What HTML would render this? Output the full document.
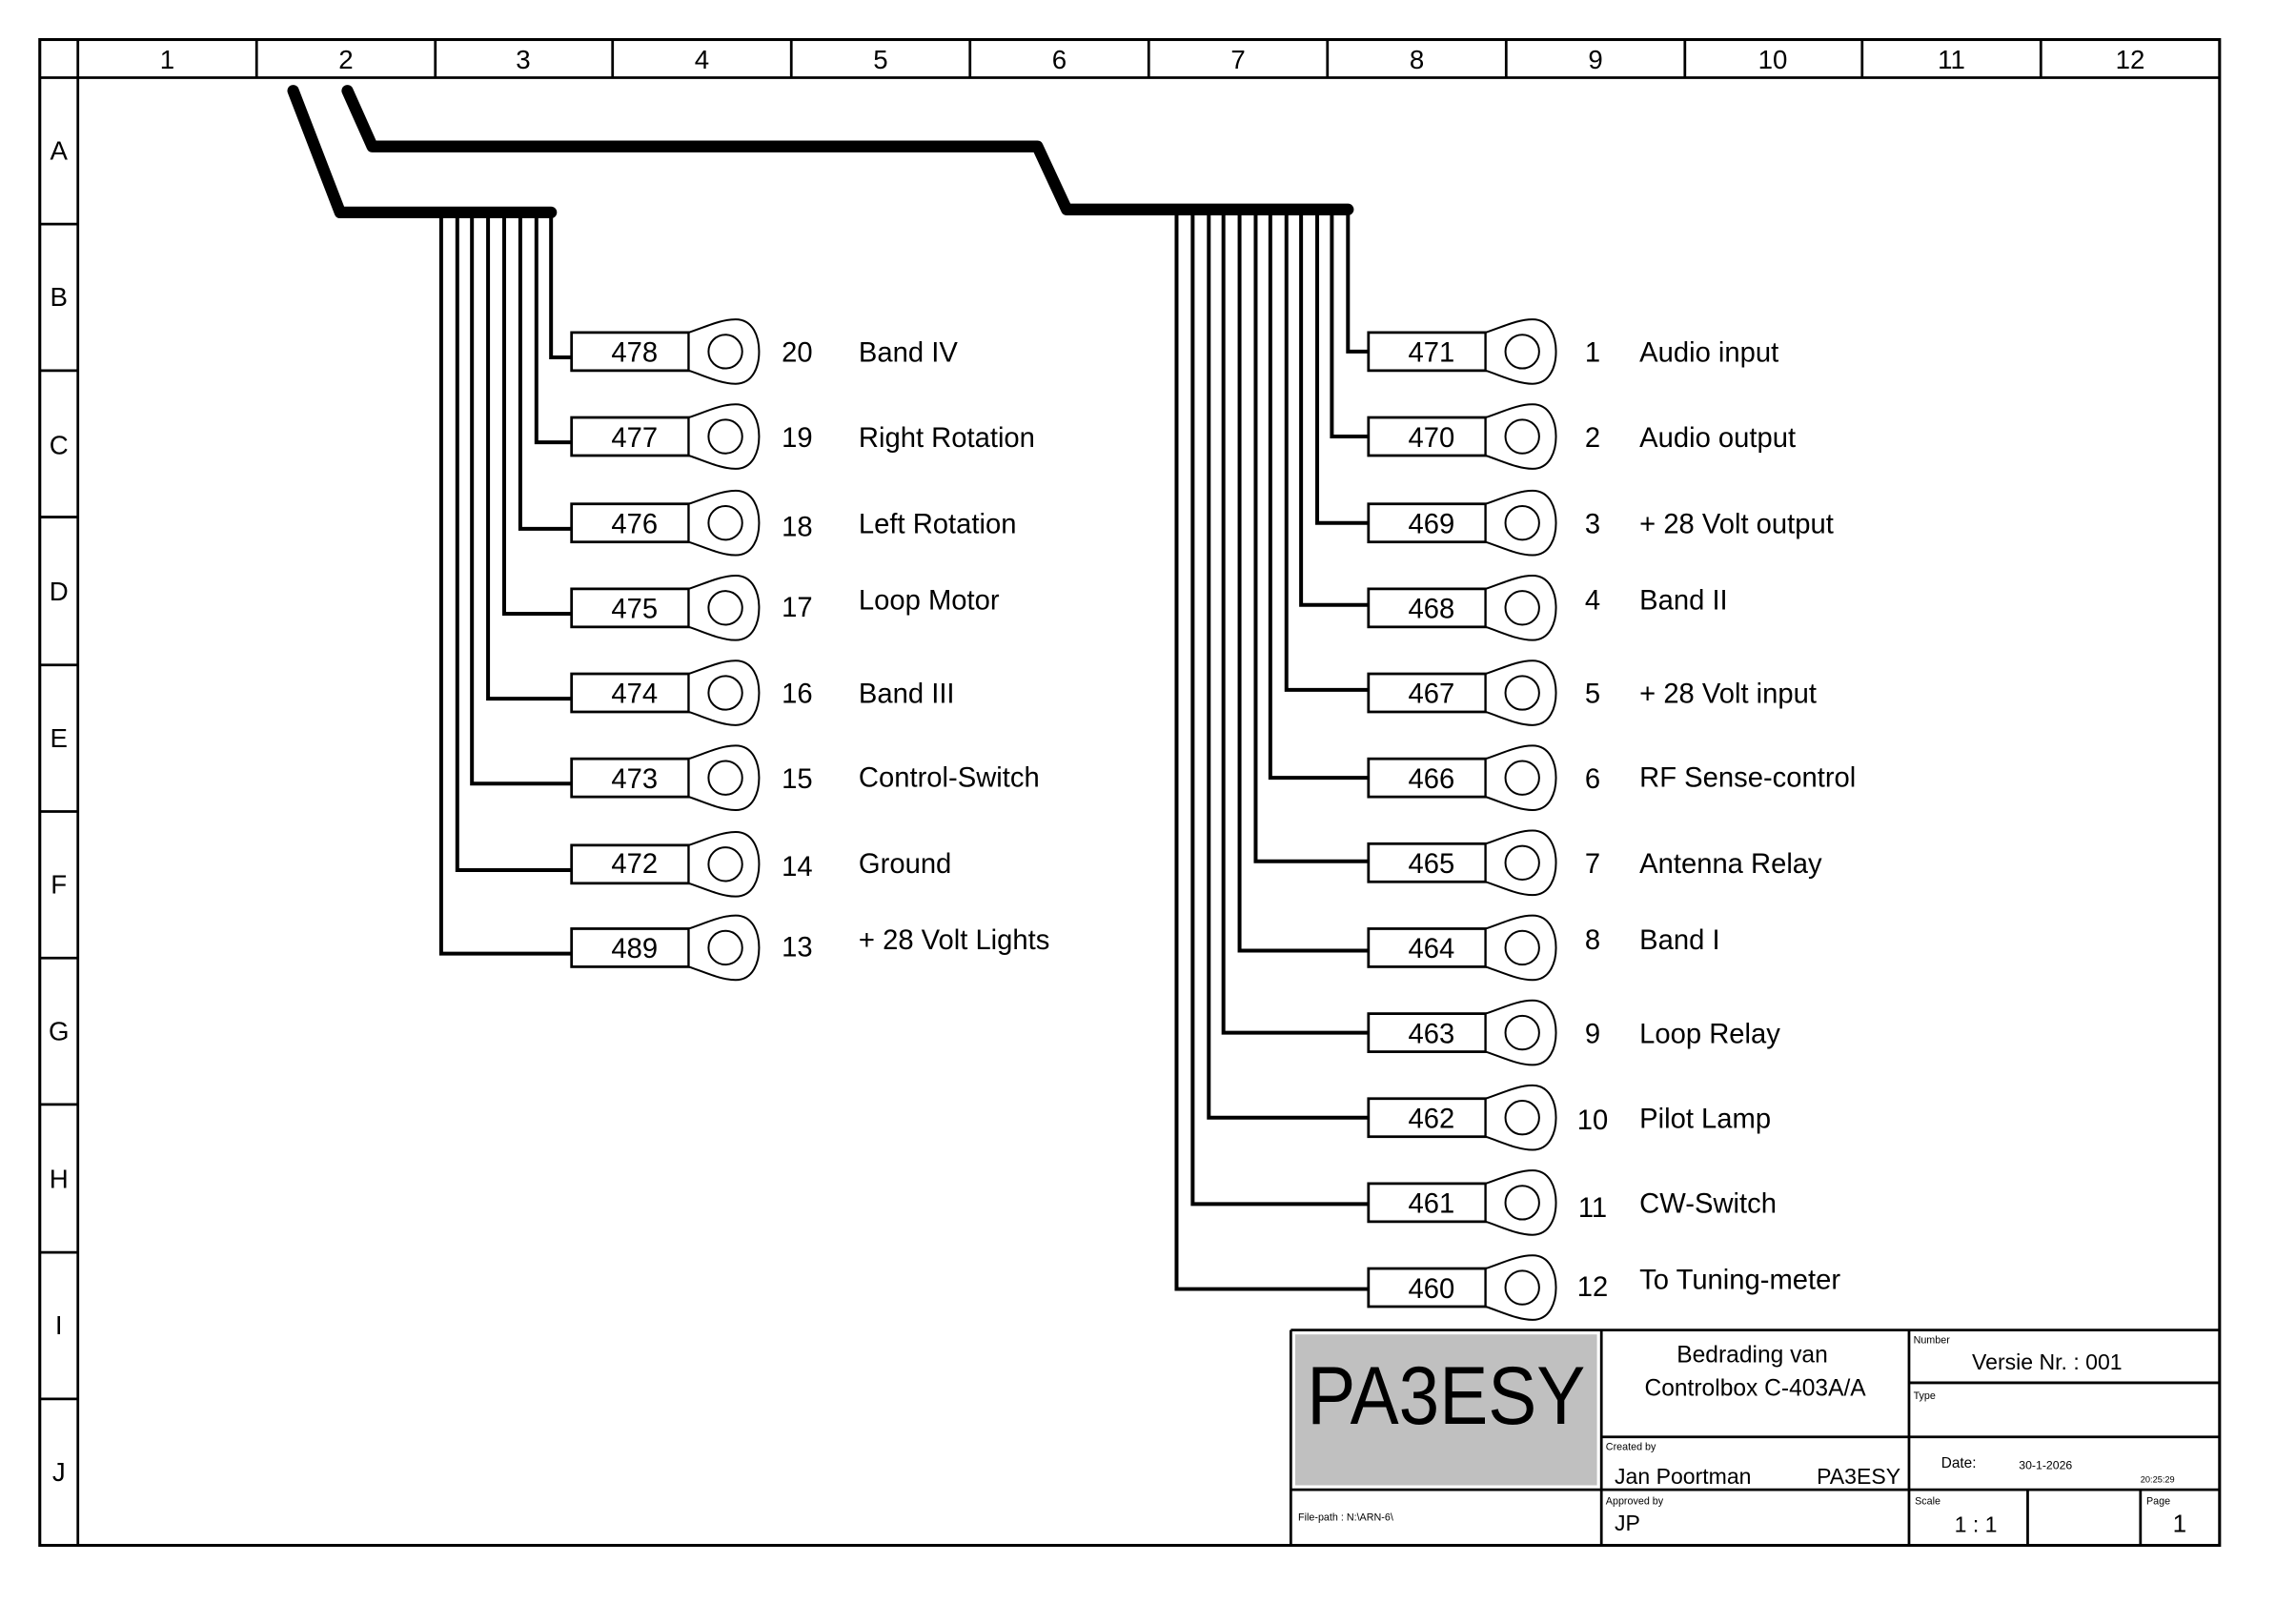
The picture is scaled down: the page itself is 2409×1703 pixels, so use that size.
<!DOCTYPE html>
<html><head><meta charset="utf-8"><style>
html,body{margin:0;padding:0;background:#fff}
svg{display:block}
text{font-family:"Liberation Sans",sans-serif;fill:#000}
.h{font-size:18px;text-anchor:middle}
.t{font-size:19px}
.n{font-size:19px;text-anchor:middle}
.w{stroke:#000;stroke-width:2.6;fill:none}
.b{fill:#fff;stroke:#000;stroke-width:1.8}
.l{fill:#fff;stroke:#000;stroke-width:1.3}
.f{stroke:#000;stroke-width:1.8;fill:none}
.s{font-size:7px}
</style></head><body>
<svg width="2409" height="1703" viewBox="0 0 1567 1108" xmlns="http://www.w3.org/2000/svg">
<defs>
<g id="lug">
<rect class="b" x="0" y="-13" width="80" height="26"/>
<path class="l" d="M80,-13 C92,-17 102,-22 112,-22 C124,-22 128,-10 128,0 C128,10 124,22 112,22 C102,22 92,17 80,13 Z"/>
<circle class="l" cx="105" cy="0" r="11.5"/>
</g>
</defs>
<rect x="27" y="27" width="1488" height="1028" fill="none" stroke="#000" stroke-width="2"/>
<line class="f" x1="27" y1="53" x2="1515" y2="53"/>
<line class="f" x1="53" y1="27" x2="53" y2="1055"/>
<g class="f">
<line x1="175" y1="27" x2="175" y2="53"/><line x1="297" y1="27" x2="297" y2="53"/><line x1="418" y1="27" x2="418" y2="53"/><line x1="540" y1="27" x2="540" y2="53"/><line x1="662" y1="27" x2="662" y2="53"/><line x1="784" y1="27" x2="784" y2="53"/><line x1="906" y1="27" x2="906" y2="53"/><line x1="1028" y1="27" x2="1028" y2="53"/><line x1="1150" y1="27" x2="1150" y2="53"/><line x1="1271" y1="27" x2="1271" y2="53"/><line x1="1393" y1="27" x2="1393" y2="53"/>
<line x1="27" y1="153" x2="53" y2="153"/><line x1="27" y1="253" x2="53" y2="253"/><line x1="27" y1="353" x2="53" y2="353"/><line x1="27" y1="454" x2="53" y2="454"/><line x1="27" y1="554" x2="53" y2="554"/><line x1="27" y1="654" x2="53" y2="654"/><line x1="27" y1="754" x2="53" y2="754"/><line x1="27" y1="855" x2="53" y2="855"/><line x1="27" y1="955" x2="53" y2="955"/>
</g>
<g class="h">
<text x="114" y="47">1</text><text x="236" y="47">2</text><text x="357" y="47">3</text><text x="479" y="47">4</text><text x="601" y="47">5</text><text x="723" y="47">6</text><text x="845" y="47">7</text><text x="967" y="47">8</text><text x="1089" y="47">9</text><text x="1210" y="47">10</text><text x="1332" y="47">11</text><text x="1454" y="47">12</text>
<text x="40" y="109">A</text><text x="40" y="209">B</text><text x="40" y="310">C</text><text x="40" y="410">D</text><text x="40" y="510">E</text><text x="40" y="610">F</text><text x="40" y="710">G</text><text x="40" y="811">H</text><text x="40" y="911">I</text><text x="40" y="1011">J</text>
</g>
<path d="M200,62 L232,145 L376,145" stroke="#000" stroke-width="8" fill="none" stroke-linecap="round" stroke-linejoin="round"/>
<path d="M237,62 L254,100 L708,100 L728,143 L920,143" stroke="#000" stroke-width="8" fill="none" stroke-linecap="round" stroke-linejoin="round"/>
<g class="w">
<path d="M376,145 V244 H390"/><path d="M366,145 V302 H390"/><path d="M355,145 V361 H390"/><path d="M344,145 V419 H390"/><path d="M333,145 V477 H390"/><path d="M322,145 V535 H390"/><path d="M312,145 V594 H390"/><path d="M301,145 V651 H390"/>
</g>
<g class="w">
<path d="M920,143 V240 H934"/><path d="M909,143 V298 H934"/><path d="M899,143 V357 H934"/><path d="M888,143 V413 H934"/><path d="M878,143 V471 H934"/><path d="M867,143 V531 H934"/><path d="M857,143 V588 H934"/><path d="M846,143 V649 H934"/><path d="M835,143 V705 H934"/><path d="M825,143 V763 H934"/><path d="M814,143 V822 H934"/><path d="M803,143 V880 H934"/>
</g>
<use href="#lug" x="390" y="240"/><use href="#lug" x="390" y="298"/><use href="#lug" x="390" y="357"/><use href="#lug" x="390" y="415"/><use href="#lug" x="390" y="473"/><use href="#lug" x="390" y="531"/><use href="#lug" x="390" y="590"/><use href="#lug" x="390" y="647"/>
<g class="n">
<text x="433" y="247">478</text><text x="433" y="305">477</text><text x="433" y="364">476</text><text x="433" y="422">475</text><text x="433" y="480">474</text><text x="433" y="538">473</text><text x="433" y="596">472</text><text x="433" y="654">489</text>
<text x="544" y="247">20</text><text x="544" y="305">19</text><text x="544" y="366">18</text><text x="544" y="421">17</text><text x="544" y="480">16</text><text x="544" y="538">15</text><text x="544" y="598">14</text><text x="544" y="653">13</text>
</g>
<g class="t">
<text x="586" y="247">Band IV</text><text x="586" y="305">Right Rotation</text><text x="586" y="364">Left Rotation</text><text x="586" y="416">Loop Motor</text><text x="586" y="480">Band III</text><text x="586" y="537">Control-Switch</text><text x="586" y="596">Ground</text><text x="586" y="648">+ 28 Volt Lights</text>
</g>
<use href="#lug" x="934" y="240"/><use href="#lug" x="934" y="298"/><use href="#lug" x="934" y="357"/><use href="#lug" x="934" y="415"/><use href="#lug" x="934" y="473"/><use href="#lug" x="934" y="531"/><use href="#lug" x="934" y="589"/><use href="#lug" x="934" y="647"/><use href="#lug" x="934" y="705"/><use href="#lug" x="934" y="763"/><use href="#lug" x="934" y="821"/><use href="#lug" x="934" y="879"/>
<g class="n">
<text x="977" y="247">471</text><text x="977" y="305">470</text><text x="977" y="364">469</text><text x="977" y="422">468</text><text x="977" y="480">467</text><text x="977" y="538">466</text><text x="977" y="596">465</text><text x="977" y="654">464</text><text x="977" y="712">463</text><text x="977" y="770">462</text><text x="977" y="828">461</text><text x="977" y="886">460</text>
<text x="1087" y="247">1</text><text x="1087" y="305">2</text><text x="1087" y="364">3</text><text x="1087" y="416">4</text><text x="1087" y="480">5</text><text x="1087" y="538">6</text><text x="1087" y="596">7</text><text x="1087" y="648">8</text><text x="1087" y="712">9</text><text x="1087" y="771">10</text><text x="1087" y="831">11</text><text x="1087" y="885">12</text>
</g>
<g class="t">
<text x="1119" y="247">Audio input</text><text x="1119" y="305">Audio output</text><text x="1119" y="364">+ 28 Volt output</text><text x="1119" y="416">Band II</text><text x="1119" y="480">+ 28 Volt input</text><text x="1119" y="537">RF Sense-control</text><text x="1119" y="596">Antenna Relay</text><text x="1119" y="648">Band I</text><text x="1119" y="712">Loop Relay</text><text x="1119" y="770">Pilot Lamp</text><text x="1119" y="828">CW-Switch</text><text x="1119" y="880">To Tuning-meter</text>
</g>
<rect x="884" y="911" width="206" height="103" fill="#c0c0c0"/>
<g class="f">
<line x1="881" y1="908" x2="1515" y2="908"/><line x1="881" y1="908" x2="881" y2="1055"/>
<line x1="1093" y1="908" x2="1093" y2="1055"/><line x1="881" y1="1017" x2="1515" y2="1017"/>
<line x1="1303" y1="908" x2="1303" y2="1055"/><line x1="1303" y1="944" x2="1515" y2="944"/>
<line x1="1093" y1="981" x2="1515" y2="981"/>
<line x1="1384" y1="1017" x2="1384" y2="1055"/><line x1="1461" y1="1017" x2="1461" y2="1055"/>
</g>
<text x="892" y="972" style="font-size:56px" textLength="190" lengthAdjust="spacingAndGlyphs">PA3ESY</text>
<text x="1196" y="930" style="font-size:16px;text-anchor:middle">Bedrading van</text>
<text x="1198" y="953" style="font-size:16px;text-anchor:middle">Controlbox C-403A/A</text>
<text x="1306" y="917" class="s">Number</text>
<text x="1346" y="935" style="font-size:15px">Versie Nr. : 001</text>
<text x="1306" y="955" class="s">Type</text>
<text x="1096" y="990" class="s">Created by</text>
<text x="1102" y="1013" style="font-size:15px">Jan Poortman</text>
<text x="1240" y="1013" style="font-size:15px">PA3ESY</text>
<text x="1325" y="1002" style="font-size:10px">Date:</text>
<text x="1378" y="1003" style="font-size:8px">30-1-2026</text>
<text x="1461" y="1012" style="font-size:6px">20:25:29</text>
<text x="886" y="1038" class="s">File-path :    N:\ARN-6\</text>
<text x="1096" y="1027" class="s">Approved by</text>
<text x="1102" y="1045" style="font-size:15px">JP</text>
<text x="1307" y="1027" class="s">Scale</text>
<text x="1334" y="1046" style="font-size:15px">1 : 1</text>
<text x="1465" y="1027" class="s">Page</text>
<text x="1483" y="1046" style="font-size:17px">1</text>
</svg>
</body></html>
